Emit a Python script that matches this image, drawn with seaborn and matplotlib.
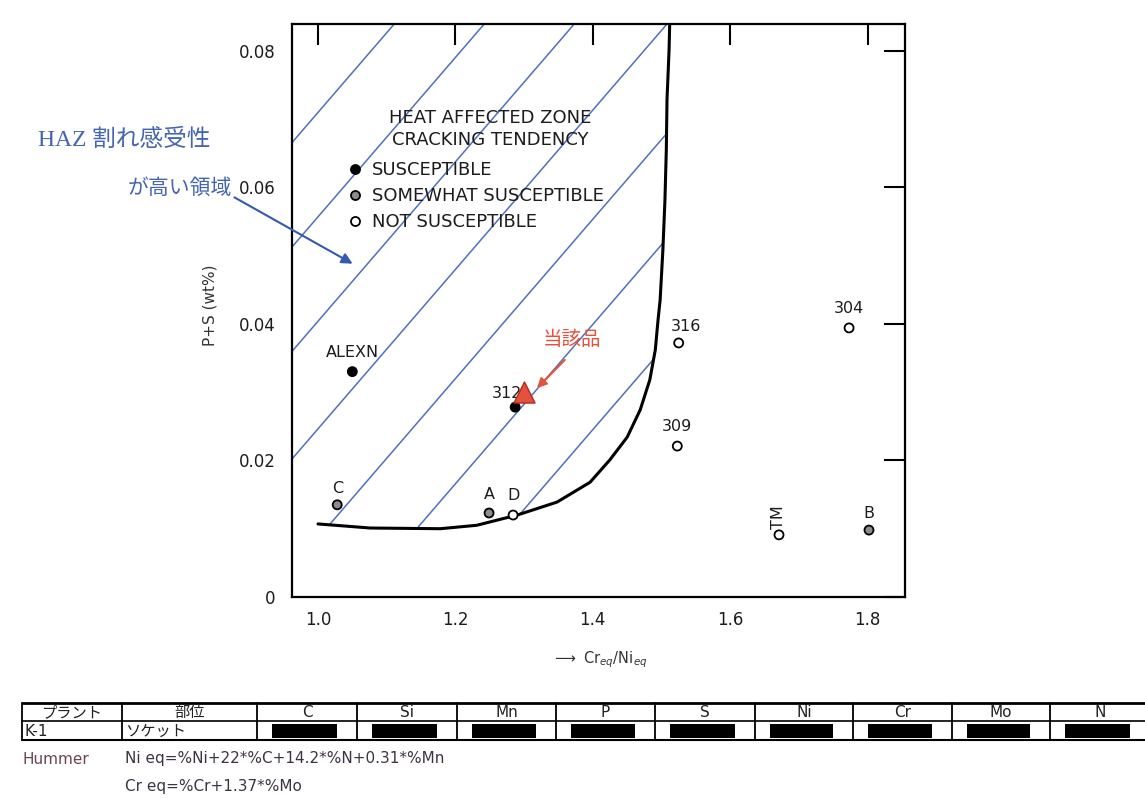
import numpy as np
import pandas as pd
import matplotlib
matplotlib.use("Agg")
import matplotlib.pyplot as plt
import seaborn as sns
from matplotlib.lines import Line2D
from matplotlib.patches import Polygon, Rectangle

# ---- alloy data: Cr_eq/Ni_eq ratio vs. P+S content (wt%) ----
alloys = ["ALEXN", "312", "C", "A", "D", "316", "309", "304", "TM", "B"]
cr_ni = [1.050, 1.287, 1.028, 1.249, 1.284, 1.525, 1.523, 1.773, 1.671, 1.802]
p_s = [0.0330, 0.0278, 0.0135, 0.0123, 0.0120, 0.0372, 0.0221, 0.0394, 0.0091, 0.0098]
tendency = ["SUSCEPTIBLE", "SUSCEPTIBLE", "SOMEWHAT SUSCEPTIBLE",
            "SOMEWHAT SUSCEPTIBLE", "NOT SUSCEPTIBLE", "NOT SUSCEPTIBLE",
            "NOT SUSCEPTIBLE", "NOT SUSCEPTIBLE", "NOT SUSCEPTIBLE",
            "SOMEWHAT SUSCEPTIBLE"]
categories = ["SUSCEPTIBLE", "SOMEWHAT SUSCEPTIBLE", "NOT SUSCEPTIBLE"]
legend_title = ["HEAT AFFECTED ZONE", "CRACKING TENDENCY"]

# product under investigation
item_label = "当該品"
item_cr_ni = [1.300]
item_p_s = [0.0300]

# boundary of the HAZ-crack susceptible region
boundary_x = [1.000, 1.076, 1.178, 1.231, 1.290, 1.348, 1.396, 1.425, 1.450,
              1.469, 1.483, 1.491, 1.495, 1.498, 1.502, 1.505, 1.507, 1.508,
              1.511, 1.512]
boundary_y = [0.0107, 0.0101, 0.0100, 0.0105, 0.0120, 0.0139, 0.0168, 0.0201,
              0.0234, 0.0274, 0.0318, 0.0362, 0.0406, 0.0435, 0.0508, 0.0581,
              0.0655, 0.0728, 0.0801, 0.0842]

x_ticks = [1.0, 1.2, 1.4, 1.6, 1.8]
x_tick_labels = ["1.0", "1.2", "1.4", "1.6", "1.8"]
y_ticks = [0.0, 0.02, 0.04, 0.06, 0.08]
y_tick_labels = ["0", "0.02", "0.04", "0.06", "0.08"]

# composition table
table_header = ["プラント", "部位", "C", "Si", "Mn", "P", "S", "Ni", "Cr", "Mo", "N"]
table_row = ["K-1", "ソケット"]
formula_name = "Hummer"
formula_lines = ["Ni eq=%Ni+22*%C+14.2*%N+0.31*%Mn", "Cr eq=%Cr+1.37*%Mo"]

# ---- styling / layout ----
W, H = 1145, 799
XLIM = (0.9622, 1.8544)
YLIM = (0.0, 0.0839)
INK = "#1c1c1c"
HATCH_BLUE = "#4f6fbf"
NOTE_BLUE = "#4565b0"
RED = "#e4513c"
hatch_offsets = [0.392, 0.523, 0.654, 0.789, 0.926, 1.058, 1.190]
hatch_slope = 8.57

label_offsets = {"ALEXN": (0, 14), "312": (-6, 10), "C": (0, 12), "A": (0, 13),
                 "D": (0, 14), "316": (5, 12), "309": (0, 14), "304": (0, 14),
                 "TM": (0, 13), "B": (0, 12)}
label_rotation = {"TM": 90}

sns.set_style("white")
plt.rcParams["font.family"] = ["DejaVu Sans", "Noto Sans CJK JP"]

fig = plt.figure(figsize=(W / 100, H / 100), dpi=100)

def fx(px):
    return px / W

def fy(py):
    return 1 - py / H

# overlay for the composition table (pixel layout coordinates)
tab = fig.add_axes([0, 0, 1, 1])
tab.set_xlim(0, W)
tab.set_ylim(H, 0)
tab.axis("off")

ax = fig.add_axes([fx(292), fy(597), fx(905) - fx(292), (597 - 24) / H])
ax.set_xlim(*XLIM)
ax.set_ylim(*YLIM)

# susceptible region used for clipping the hatch
region = [(XLIM[0], YLIM[1]), (boundary_x[-1], YLIM[1])]
region += list(zip(boundary_x[::-1], boundary_y[::-1]))
region += [(XLIM[0], boundary_y[0])]
region_patch = Polygon(region, closed=True, facecolor="none", edgecolor="none")
ax.add_patch(region_patch)

for off in hatch_offsets:
    ys = np.array([YLIM[0], YLIM[1]])
    ln, = ax.plot(off + hatch_slope * ys, ys, color=HATCH_BLUE, lw=1.1, zorder=1)
    ln.set_clip_path(region_patch)

# boundary curve
sns.lineplot(x=boundary_x, y=boundary_y, ax=ax, color="black", lw=2.2,
             sort=False, estimator=None, zorder=3)

# alloy points
df = pd.DataFrame({"alloy": alloys, "cr_ni": cr_ni, "p_s": p_s, "tendency": tendency})
face = {"SUSCEPTIBLE": "black", "SOMEWHAT SUSCEPTIBLE": "#8c8c8c",
        "NOT SUSCEPTIBLE": "white"}
sns.scatterplot(data=df, x="cr_ni", y="p_s", hue="tendency", palette=face,
                hue_order=categories, s=42, edgecolor="black", linewidth=1.3,
                legend=False, ax=ax, zorder=4)

for name, x, y in zip(alloys, cr_ni, p_s):
    ax.annotate(name, (x, y), xytext=label_offsets[name], textcoords="offset points",
                ha="center", va="center", fontsize=11.5, color=INK,
                rotation=label_rotation.get(name, 0), zorder=5)

# product of interest
ax.scatter(item_cr_ni, item_p_s, marker="^", s=230, color=RED,
           edgecolor="#b02a20", linewidth=1.0, zorder=6)
ax.annotate("", xy=(item_cr_ni[0] + 0.016, item_p_s[0] + 0.0003),
            xytext=(item_cr_ni[0] + 0.062, item_p_s[0] + 0.0050),
            arrowprops=dict(arrowstyle="-|>", color=RED, lw=1.5,
                            mutation_scale=14), zorder=6)
ax.text(item_cr_ni[0] + 0.070, item_p_s[0] + 0.0077, item_label, color=RED,
        fontsize=14, ha="center", va="center", family="Noto Sans CJK JP")

# legend: two-line heading, then the three tendency classes
for k, line in enumerate(legend_title):
    fig.text(fx(490), fy(118 + 22 * k), line, ha="center", va="center",
             fontsize=13, color=INK)
handles = [Line2D([], [], ls="", marker="o", ms=6.5, mfc=face[c], mec="black",
                  mew=1.3) for c in categories]
leg = ax.legend(handles, categories, loc="upper left",
                bbox_to_anchor=(fx(350), fy(161)),
                bbox_transform=fig.transFigure, frameon=False, fontsize=13,
                handlelength=0.6, handletextpad=0.6,
                labelspacing=0.45, borderpad=0, borderaxespad=0)
for t in leg.get_texts():
    t.set_color(INK)

# axes cosmetics
ax.set_xticks(x_ticks, x_tick_labels)
ax.set_yticks(y_ticks, y_tick_labels)
ax.tick_params(direction="in", length=15, width=1.5, top=True, right=True,
               labelsize=12, labelcolor=INK, color="black")
ax.tick_params(axis="x", pad=10)
ax.tick_params(axis="y", pad=12)
for sp in ax.spines.values():
    sp.set_color("black")
    sp.set_linewidth(1.6)
ax.set_xlabel("")
ax.set_ylabel("")
ax.grid(False)

fig.text(fx(210), fy(305), "P+S (wt%)", rotation=90, ha="center", va="center",
         fontsize=11, color="#333333")
fig.text(fx(600), fy(660), r"$\longrightarrow$ Cr$_{eq}$/Ni$_{eq}$", ha="center",
         va="center", fontsize=10.5, color="#333333")

# note on the susceptible region
fig.text(fx(38), fy(140), "HAZ 割れ感受性", ha="left", va="center", fontsize=17,
         color=NOTE_BLUE, family=["Liberation Serif", "Noto Sans CJK JP"])
fig.text(fx(128), fy(188), "が高い領域", ha="left", va="center", fontsize=15,
         color=NOTE_BLUE, family=["Noto Sans CJK JP"])
ax.annotate("", xy=(1.054, 0.0486), xytext=(fx(232), fy(196)),
            textcoords="figure fraction",
            arrowprops=dict(arrowstyle="-|>", color="#3558b0", lw=1.5,
                            mutation_scale=16))

# ---- composition table ----
col_edges = [22, 122, 257, 357, 457, 556, 655, 755, 853, 952, 1050, 1150]
row_edges = [703, 721, 740]
tab.plot([col_edges[0], W], [row_edges[0]] * 2, color="black", lw=2.0)
tab.plot([col_edges[0], W], [row_edges[1]] * 2, color="black", lw=1.2)
tab.plot([col_edges[0], W], [row_edges[2]] * 2, color="black", lw=1.5)
for xe in col_edges[:-1]:
    tab.plot([xe, xe], [row_edges[0], row_edges[2]], color="black", lw=1.3)
hy = (row_edges[0] + row_edges[1]) / 2
ry = (row_edges[1] + row_edges[2]) / 2
for i, name in enumerate(table_header):
    tab.text((col_edges[i] + col_edges[i + 1]) / 2, hy + 0.5, name, ha="center",
             va="center", fontsize=11, color="#222222")
for i, name in enumerate(table_row):
    tab.text(col_edges[i] + 3, ry + 0.5, name, ha="left", va="center",
             fontsize=11, color="#222222")
for i in range(2, len(table_header)):
    tab.add_patch(Rectangle((col_edges[i] + 15, row_edges[1] + 3),
                            col_edges[i + 1] - col_edges[i] - 35, 14,
                            facecolor="black", edgecolor="none"))

tab.text(22, 759, formula_name, ha="left", va="center", fontsize=11,
         color="#6b4452")
for k, line in enumerate(formula_lines):
    tab.text(125, 759 + 27 * k, line, ha="left", va="center", fontsize=11,
             color="#3d3346")

fig.savefig("out.png", dpi=100, facecolor="white")
